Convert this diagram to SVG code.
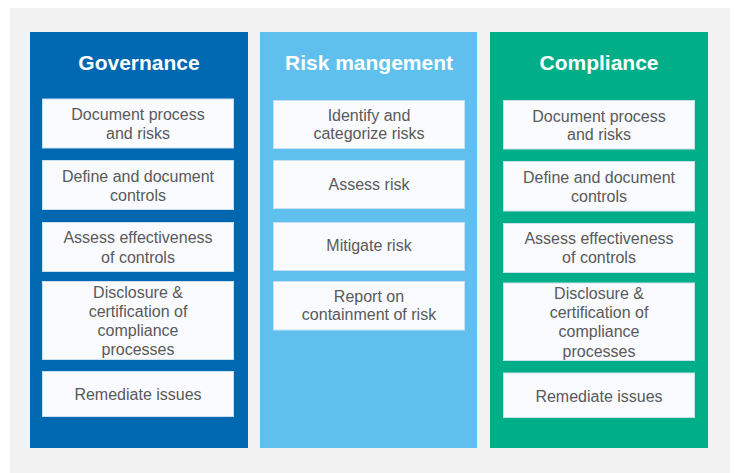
<svg xmlns="http://www.w3.org/2000/svg" width="734" height="473" viewBox="0 0 734 473">
<style>
.title{font-family:"Liberation Sans",Arial,sans-serif;font-size:21px;font-weight:bold;fill:#ffffff;text-anchor:middle}
.box{fill:#f9fbff;stroke:#c9e0f3;stroke-width:1}
.t{font-family:"Liberation Sans",Arial,sans-serif;font-size:16px;fill:#595959;text-anchor:middle}
</style>
<rect x="0" y="0" width="734" height="473" fill="#ffffff"/>
<rect x="10" y="8" width="720" height="465" fill="#f2f2f2"/>
<g id="governance">
<rect x="30" y="32" width="218" height="416" fill="#0067b1"/>
<text class="title" x="139" y="70">Governance</text>
<g id="g1"><rect class="box" x="42.5" y="99" width="191" height="49"/><text class="t" x="138" y="120">Document process</text><text class="t" x="138" y="139.3">and risks</text></g>
<g id="g2"><rect class="box" x="42.5" y="160.5" width="191" height="49"/><text class="t" x="138" y="181.7">Define and document</text><text class="t" x="138" y="201">controls</text></g>
<g id="g3"><rect class="box" x="42.5" y="222.5" width="191" height="49"/><text class="t" x="138" y="243.3">Assess effectiveness</text><text class="t" x="138" y="262.7">of controls</text></g>
<g id="g4"><rect class="box" x="42.5" y="281.5" width="191" height="78"/><text class="t" x="138" y="297.7">Disclosure &amp;</text><text class="t" x="138" y="316.7">certification of</text><text class="t" x="138" y="336">compliance</text><text class="t" x="138" y="355.3">processes</text></g>
<g id="g5"><rect class="box" x="42.5" y="371.5" width="191" height="45"/><text class="t" x="138" y="400">Remediate issues</text></g>
</g>
<g id="risk">
<rect x="260" y="32" width="217" height="416" fill="#60c0ed"/>
<text class="title" x="369" y="70">Risk mangement</text>
<g id="r1"><rect class="box" x="273.5" y="100.5" width="191" height="48"/><text class="t" x="369" y="120.7">Identify and</text><text class="t" x="369" y="139.3">categorize risks</text></g>
<g id="r2"><rect class="box" x="273.5" y="160.5" width="191" height="48"/><text class="t" x="369" y="190">Assess risk</text></g>
<g id="r3"><rect class="box" x="273.5" y="222.5" width="191" height="48"/><text class="t" x="369" y="251">Mitigate risk</text></g>
<g id="r4"><rect class="box" x="273.5" y="281.5" width="191" height="48.5"/><text class="t" x="369" y="301.7">Report on</text><text class="t" x="369" y="320.3">containment of risk</text></g>
</g>
<g id="compliance">
<rect x="490" y="32" width="218" height="416" fill="#00ae87"/>
<text class="title" x="599" y="70">Compliance</text>
<g id="c1"><rect class="box" x="503.5" y="100.5" width="191" height="48.5"/><text class="t" x="599" y="121.7">Document process</text><text class="t" x="599" y="140">and risks</text></g>
<g id="c2"><rect class="box" x="503.5" y="161.5" width="191" height="49.5"/><text class="t" x="599" y="182.7">Define and document</text><text class="t" x="599" y="201.7">controls</text></g>
<g id="c3"><rect class="box" x="503.5" y="223.5" width="191" height="49"/><text class="t" x="599" y="244.3">Assess effectiveness</text><text class="t" x="599" y="263.3">of controls</text></g>
<g id="c4"><rect class="box" x="503.5" y="283" width="191" height="77.5"/><text class="t" x="599" y="298.7">Disclosure &amp;</text><text class="t" x="599" y="317.7">certification of</text><text class="t" x="599" y="337.3">compliance</text><text class="t" x="599" y="356.7">processes</text></g>
<g id="c5"><rect class="box" x="503.5" y="373" width="191" height="44.5"/><text class="t" x="599" y="401.7">Remediate issues</text></g>
</g>
<g id="connectors"/>
</svg>
